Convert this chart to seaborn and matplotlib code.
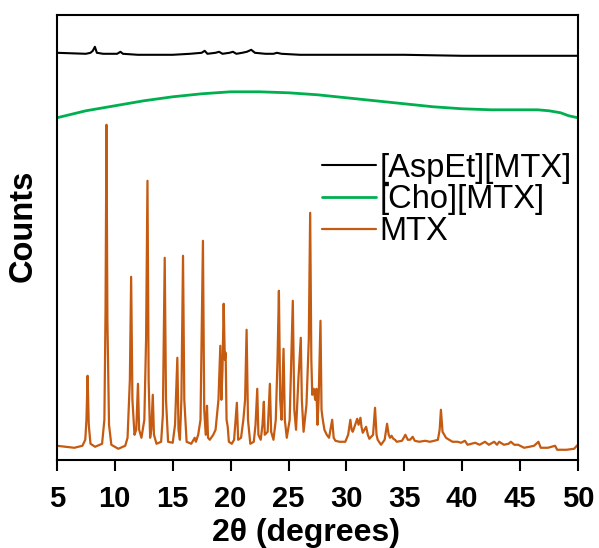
import pandas as pd
import numpy as np
import matplotlib
matplotlib.use("Agg")
import matplotlib.pyplot as plt
import seaborn as sns

# MTX pattern (2theta, counts in arbitrary units)
mtx_2theta = [5.0, 6.5, 7.2, 7.45, 7.55, 7.65, 7.75, 7.9, 8.3, 8.9, 9.1, 9.2, 9.28, 9.36, 9.5, 9.7,
              10.3, 10.9, 11.1, 11.3, 11.41, 11.52, 11.7, 11.85, 12.0, 12.1, 12.3, 12.55, 12.7, 12.82,
              12.92, 13.05, 13.15, 13.28, 13.38, 13.6, 14.0, 14.15, 14.31, 14.42, 14.6, 15.0, 15.2,
              15.40, 15.5, 15.62, 15.75, 15.89, 16.0, 16.2, 16.6, 16.9, 17.0, 17.2, 17.4, 17.61, 17.72,
              17.85, 17.96, 18.05, 18.2, 18.5, 18.7, 18.95, 19.11, 19.2, 19.3, 19.40, 19.5, 19.57, 19.65,
              19.75, 19.85, 20.1, 20.3, 20.54, 20.65, 20.9, 21.1, 21.25, 21.38, 21.5, 21.7, 22.0, 22.15,
              22.30, 22.4, 22.6, 22.75, 22.87, 22.95, 23.2, 23.39, 23.5, 23.7, 23.9, 24.05, 24.17, 24.28,
              24.4, 24.57, 24.68, 24.85, 25.1, 25.37, 25.5, 25.65, 25.85, 26.06, 26.15, 26.3, 26.55,
              26.75, 26.87, 26.97, 27.05, 27.18, 27.3, 27.41, 27.5, 27.6, 27.76, 27.85, 27.96, 28.1,
              28.3, 28.5, 28.77, 28.9, 29.05, 29.4, 29.9, 30.15, 30.34, 30.45, 30.55, 30.75, 30.93,
              31.05, 31.21, 31.3, 31.41, 31.55, 31.7, 31.85, 31.98, 32.3, 32.47, 32.6, 32.7, 32.99,
              33.3, 33.51, 33.65, 33.77, 33.9, 34.05, 34.2, 34.34, 34.8, 35.09, 35.3, 35.5, 35.72, 35.9,
              36.29, 36.8, 37.2, 37.59, 37.9, 38.05, 38.16, 38.3, 38.45, 38.6, 38.73, 39.16, 39.6, 39.9,
              40.23, 40.46, 40.8, 41.12, 41.5, 41.96, 42.3, 42.76, 43.0, 43.19, 43.6, 44.0, 44.2, 44.5,
              44.83, 45.34, 45.8, 46.2, 46.58, 46.78, 47.4, 48.02, 48.2, 49.0, 49.66, 49.9, 50.0]
mtx_counts = [14, 12, 14, 20, 40, 84, 35, 16, 13, 16, 40, 150, 335, 140, 35, 15,
              11, 14, 22, 80, 183, 60, 25, 30, 76, 30, 22, 40, 120, 279,
              80, 22, 30, 65, 25, 16, 18, 45, 202, 60, 18, 17, 35,
              102, 30, 20, 60, 204, 60, 18, 16, 22, 18, 25, 40, 219, 50,
              25, 54, 22, 20, 25, 30, 60, 114, 60, 90, 156, 100, 107, 40,
              33, 18, 16, 20, 57, 20, 22, 40, 60, 130, 40, 16, 18, 35,
              71, 25, 20, 35, 58, 25, 28, 76, 28, 20, 40, 100, 169, 60,
              40, 111, 40, 22, 40, 159, 50, 30, 80, 122, 60, 28, 55,
              120, 247, 100, 65, 71, 60, 71, 35, 60, 139, 50, 40, 30,
              25, 22, 40, 22, 19, 18, 18, 25, 40, 30, 28, 35, 41,
              35, 42, 33, 27, 30, 33, 25, 21, 25, 52, 25, 20, 15,
              20, 36, 25, 22, 24, 21, 20, 18, 19, 25, 20, 20, 23, 19,
              18, 19, 18, 19, 20, 30, 50, 28, 25, 22, 21, 18, 18, 17,
              19, 15, 16, 17, 15, 18, 15, 18, 15, 18, 15, 16, 18, 15,
              15, 12, 13, 14, 18, 12, 12, 14, 10, 10, 11, 14, 15]

# [AspEt][MTX] pattern
aspet_2theta = [5.0, 7.5, 7.9, 8.1, 8.28, 8.45, 9.0, 10.2, 10.49, 10.7, 12.0, 15.0, 16.5, 17.5,
                17.76, 18.0, 18.7, 19.0, 19.3, 19.9, 20.2, 20.5, 21.0, 21.4, 21.78, 22.1, 23.0,
                23.7, 24.0, 24.4, 26.0, 30.0, 35.0, 40.0, 45.0, 50.0]
aspet_counts = [407, 406, 407, 409, 413, 407, 406, 406, 408, 406, 405, 405, 406, 407,
                409, 406, 407, 408, 406, 407, 408, 406, 407, 408, 410, 407, 406,
                406, 407, 406, 405, 405, 405, 404, 404, 404]

# [Cho][MTX] pattern (amorphous halo)
cho_2theta = [5.0, 7.5, 10.0, 12.5, 15.0, 17.5, 20.0, 22.5, 25.0, 27.5, 30.0, 32.5, 35.0,
              37.5, 40.0, 42.5, 45.0, 46.5, 47.5, 48.5, 49.2, 50.0]
cho_counts = [342, 349, 354, 359, 363, 366, 368, 368, 367, 365, 362, 359, 356,
              353, 351, 350, 350, 350, 349, 347, 344, 342]

sns.set_style("ticks")
plt.rcParams["font.family"] = ["Liberation Sans", "DejaVu Sans"]
plt.rcParams["text.color"] = "black"
plt.rcParams["axes.labelcolor"] = "black"
plt.rcParams["xtick.color"] = "black"

fig, ax = plt.subplots(figsize=(5.99, 5.48), dpi=100)
fig.subplots_adjust(left=0.095, right=0.965, bottom=0.161, top=0.973)

sns.lineplot(x=aspet_2theta, y=aspet_counts, color="black", lw=1.5, label="[AspEt][MTX]", ax=ax)
sns.lineplot(x=cho_2theta, y=cho_counts, color="#00B050", lw=2.0, label="[Cho][MTX]", ax=ax)
sns.lineplot(x=mtx_2theta, y=mtx_counts, color="#C55A11", lw=1.6, label="MTX", ax=ax)

ax.set_xlim(5, 50)
ax.set_ylim(0, 445)
ax.set_xticks(range(5, 51, 5))
ax.set_yticks([])
ax.tick_params(axis="x", direction="out", length=8, width=1.5, labelsize=21, pad=10)
for lab in ax.get_xticklabels():
    lab.set_fontweight("bold")
for side in ["left", "right", "top", "bottom"]:
    ax.spines[side].set_visible(True)
    ax.spines[side].set_linewidth(1.5)
    ax.spines[side].set_color("black")

ax.set_xlabel("2θ (degrees)", fontsize=23, fontweight="bold")
ax.set_ylabel("Counts", fontsize=23.5, fontweight="bold")
ax.xaxis.set_label_coords(0.478, -0.13)
ax.yaxis.set_label_coords(-0.035, 0.525)

ax.legend(loc="upper right", bbox_to_anchor=(0.988, 0.690), frameon=False, fontsize=23.5,
          handlelength=1.65, handletextpad=0.1, labelspacing=0.02, borderpad=0, borderaxespad=0)

fig.savefig("out.png", dpi=100)
